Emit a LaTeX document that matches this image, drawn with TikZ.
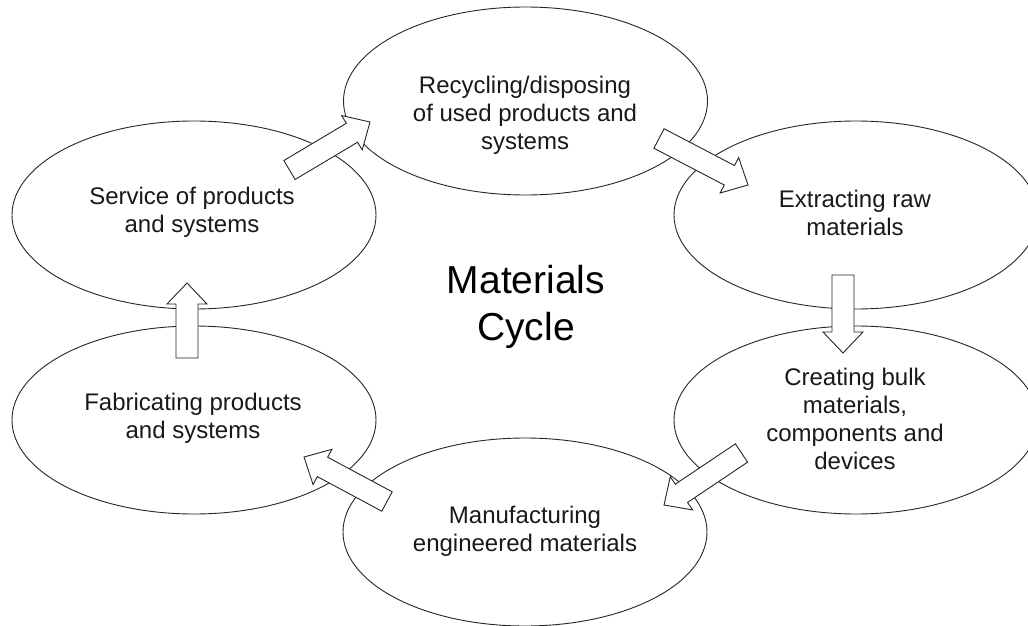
\documentclass[tikz,border=0pt]{standalone}
\usepackage{fontspec}
\setmainfont{Liberation Sans}
\usetikzlibrary{calc,shapes.geometric}
\tikzset{
  oval/.style={draw=black!85, line width=0.9pt, ellipse, minimum width=364pt, minimum height=188pt, inner sep=0pt},
  lbl/.style={align=center, font=\fontsize{24}{28}\selectfont, text=black!90, inner sep=0pt},
  title/.style={align=center, font=\fontsize{39}{47}\selectfont, text=black, inner sep=0pt},
  blk/.style={draw=black!85, line width=0.9pt, fill=white, line join=miter}
}
\newcommand\blkarrow[3]{%
  \coordinate (#3b) at ($(#2)!21pt!(#1)$);
  \draw[blk] ($(#1)!11pt!90:(#2)$) -- ($(#3b)!11pt!90:(#2)$) -- ($(#3b)!20pt!90:(#2)$) -- (#2)
    -- ($(#3b)!20pt!-90:(#2)$) -- ($(#3b)!11pt!-90:(#2)$) -- ($(#1)!11pt!-90:(#2)$) -- cycle;}
\begin{document}
\begin{tikzpicture}[x=1pt,y=-1pt]
\clip (0,0) rectangle (1028,626);
\fill[white] (0,0) rectangle (1028,626);
% ellipses
\node[oval] (rec) at (525.5,101) {};
\node[oval] (ext) at (856,215) {};
\node[oval] (cre) at (856,420) {};
\node[oval] (man) at (525,532) {};
\node[oval] (fab) at (194,420) {};
\node[oval] (ser) at (194,215) {};
% labels
\node[lbl] (trec) at (525,115) {Recycling/disposing\\of used products and\\systems};
\node[lbl] (text) at (855,213) {Extracting raw\\materials};
\node[lbl] (tcre) at (855,419) {Creating bulk\\materials,\\components and\\devices};
\node[lbl] (tman) at (525,531) {Manufacturing\\engineered materials};
\node[lbl] (tfab) at (193,418) {Fabricating products\\and systems};
\node[lbl] (tser) at (192,212) {Service of products\\and systems};
\node[title] (ttl) at (526,307) {Materials\\Cycle};
% arrow end points
\coordinate (a1s) at (289.5,170); \coordinate (a1e) at (370,122);
\coordinate (a2s) at (659,138.5); \coordinate (a2e) at (748,185);
\coordinate (a3s) at (843,275);   \coordinate (a3e) at (843,353);
\coordinate (a4s) at (741.5,453); \coordinate (a4e) at (664,505);
\coordinate (a5s) at (387,501.5); \coordinate (a5e) at (304,457);
\coordinate (a6s) at (187,358);   \coordinate (a6e) at (187,283);
\blkarrow{a1s}{a1e}{a1}
\blkarrow{a2s}{a2e}{a2}
\blkarrow{a3s}{a3e}{a3}
\blkarrow{a4s}{a4e}{a4}
\blkarrow{a5s}{a5e}{a5}
\blkarrow{a6s}{a6e}{a6}
\end{tikzpicture}
\end{document}
